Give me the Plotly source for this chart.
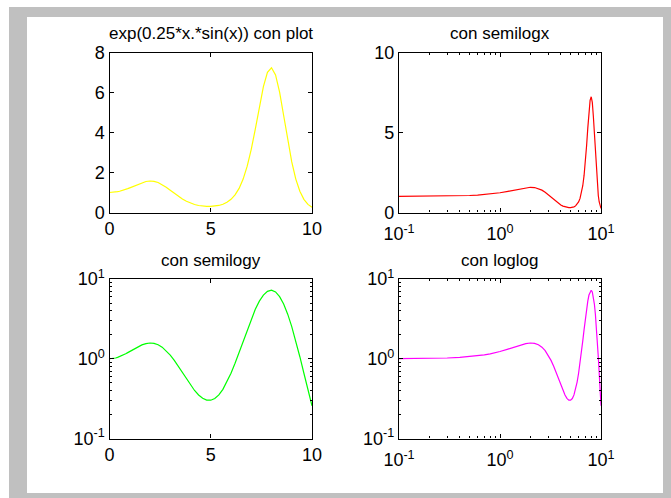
import plotly.graph_objects as go

# x samples and y = exp(0.25*x*sin(x)) values (read/estimated)
x_vals = [0.0, 0.1, 0.2, 0.3, 0.4, 0.5, 0.6, 0.7, 0.8, 0.9, 1.0,
          1.2, 1.4, 1.6, 1.8, 2.0, 2.2, 2.4, 2.6, 2.8, 3.0,
          3.2, 3.4, 3.6, 3.8, 4.0, 4.2, 4.4, 4.6, 4.8, 5.0,
          5.2, 5.4, 5.6, 5.8, 6.0, 6.2, 6.4, 6.6, 6.8, 7.0,
          7.2, 7.4, 7.6, 7.8, 8.0, 8.2, 8.4, 8.6, 8.8, 9.0,
          9.2, 9.4, 9.6, 9.8, 10.0]
y_vals = [1.000, 1.0025, 1.010, 1.022, 1.040, 1.062, 1.088, 1.119, 1.154, 1.193, 1.234,
          1.323, 1.412, 1.492, 1.550, 1.576, 1.560, 1.500, 1.398, 1.264, 1.112,
          0.954, 0.805, 0.672, 0.559, 0.469, 0.400, 0.351, 0.319, 0.303, 0.302,
          0.317, 0.352, 0.413, 0.510, 0.658, 0.879, 1.205, 1.672, 2.316, 3.157,
          4.173, 5.273, 6.290, 7.009, 7.234, 6.879, 6.018, 4.850, 3.621, 2.528,
          1.670, 1.060, 0.658, 0.407, 0.257]

titles = ["exp(0.25*x.*sin(x)) con plot", "con semilogx", "con semilogy", "con loglog"]
colors = ["#ffff00", "#ff0000", "#00ff00", "#ff00ff"]
lin_x_ticks = [0, 5, 10]
lin_y1_ticks = [0, 2, 4, 6, 8]
lin_y2_ticks = [0, 5, 10]
log_ticks = [0.1, 1, 10]
log_ticktext = ["10<sup>-1</sup>", "10<sup>0</sup>", "10<sup>1</sup>"]
log_minor = [0.2, 0.3, 0.4, 0.5, 0.6, 0.7, 0.8, 0.9, 2, 3, 4, 5, 6, 7, 8, 9]

W, H = 671, 498
FONT = "Liberation Sans, Arial, Helvetica, sans-serif"

# pixel boxes of the four axes: (left, right, top, bottom)
boxes = [(109.5, 312, 52.5, 212.5), (399, 601, 52.5, 212.5),
         (109.5, 312, 279, 438.5), (399, 601, 279, 438.5)]

xpos = [x for x in x_vals if x > 0]
ypos = [y for x, y in zip(x_vals, y_vals) if x > 0]
series = [(x_vals, y_vals), (xpos, ypos), (x_vals, y_vals), (xpos, ypos)]

fig = go.Figure()
for i, (xs, ys) in enumerate(series):
    sfx = "" if i == 0 else str(i + 1)
    fig.add_trace(go.Scatter(x=xs, y=ys, mode="lines",
                             line=dict(color=colors[i], width=1.2),
                             xaxis="x" + sfx, yaxis="y" + sfx,
                             showlegend=False, hoverinfo="skip"))

base = dict(showline=True, linecolor="black", linewidth=1.3, mirror="allticks",
            ticks="inside", ticklen=4, tickcolor="black", tickwidth=1,
            showgrid=False, zeroline=False, automargin=False,
            tickfont=dict(family=FONT, size=18, color="black"))

layout = dict(width=W, height=H, margin=dict(l=0, r=0, t=0, b=0),
              paper_bgcolor="white", plot_bgcolor="white",
              template="none", showlegend=False)

annotations = []
for i, (l, r, t, b) in enumerate(boxes):
    sfx = "" if i == 0 else str(i + 1)
    xd = [l / W, r / W]
    yd = [1 - b / H, 1 - t / H]
    xlog = i in (1, 3)
    ylog = i in (2, 3)
    xa = dict(base, domain=xd, anchor="y" + sfx)
    ya = dict(base, domain=yd, anchor="x" + sfx)
    if xlog:
        xa.update(type="log", range=[-1, 1], tickmode="array", tickvals=log_ticks,
                  ticktext=log_ticktext, ticklabelstandoff=5,
                  minor=dict(ticks="inside", ticklen=2, tickcolor="black",
                             tickmode="array", tickvals=log_minor, showgrid=False))
    else:
        xa.update(range=[0, 10], tickmode="array", tickvals=lin_x_ticks)
    if ylog:
        ya.update(type="log", range=[-1, 1], tickmode="array", tickvals=log_ticks,
                  ticktext=log_ticktext,
                  minor=dict(ticks="inside", ticklen=2, tickcolor="black",
                             tickmode="array", tickvals=log_minor, showgrid=False))
    elif i == 0:
        ya.update(range=[0, 8], tickmode="array", tickvals=lin_y1_ticks)
    else:
        ya.update(range=[0, 10], tickmode="array", tickvals=lin_y2_ticks)
    layout["xaxis" + sfx] = xa
    layout["yaxis" + sfx] = ya
    annotations.append(dict(text=titles[i], xref="x%s domain" % sfx, yref="y%s domain" % sfx,
                            x=0.5, y=1, xanchor="center", yanchor="bottom", yshift=7,
                            showarrow=False, font=dict(family=FONT, size=17, color="black")))

layout["annotations"] = annotations
layout["shapes"] = [
    dict(type="rect", xref="paper", yref="paper", layer="below",
         x0=9 / W, x1=1, y0=0, y1=1 - 7 / H, fillcolor="#c0c0c0", line=dict(width=0)),
    dict(type="rect", xref="paper", yref="paper", layer="below",
         x0=27 / W, x1=663 / W, y0=1 - 493 / H, y1=1 - 17 / H, fillcolor="white",
         line=dict(width=0)),
]
fig.update_layout(**layout)
fig.write_html("out.html")
